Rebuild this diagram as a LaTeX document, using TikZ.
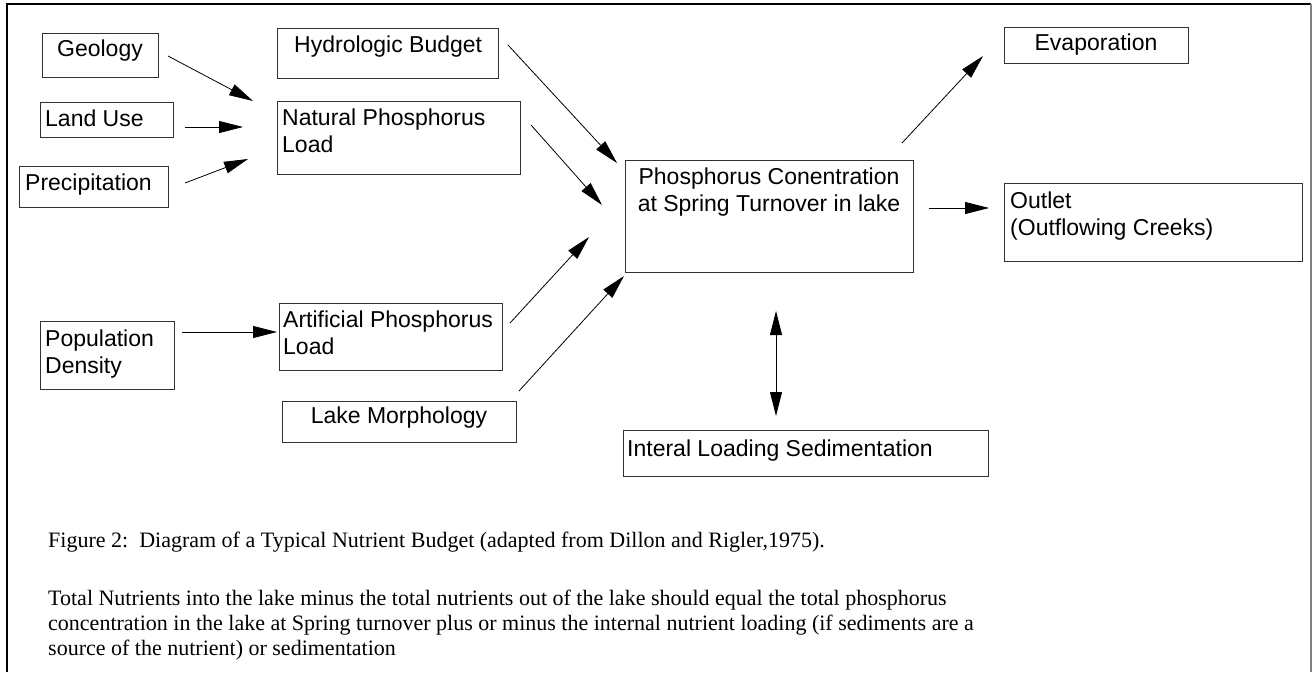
\documentclass[tikz,border=0pt]{standalone}
\usepackage{fontspec}
\setmainfont{Liberation Serif}
\setsansfont{Liberation Sans}
\usetikzlibrary{arrows.meta}
\begin{document}
\begin{tikzpicture}[x=1pt,y=-1pt,
  box/.style={draw=black!80,line width=1.1pt,inner sep=0pt,anchor=north west},
  lbl/.style={font=\sffamily\fontsize{23}{27}\selectfont,inner sep=0pt,align=left},
  captxt/.style={font=\rmfamily\fontsize{22}{25}\selectfont,inner sep=0pt,anchor=base west,align=left},
  arr/.style={line width=0.8pt,-{Triangle[length=24pt,width=12pt]}},
  darr/.style={line width=0.8pt,{Triangle[length=24pt,width=12pt]}-{Triangle[length=24pt,width=12pt]}}]
\useasboundingbox (0,0) rectangle (1316,672);
\fill[white] (0,0) rectangle (1316,672);
% frame
\draw[line width=1.5pt] (7,672) -- (7,4) -- (1311,4);
\draw[black!50,line width=2pt] (1311,4) -- (1311,672);
% boxes
\node[box,minimum width=116pt,minimum height=44pt] (geo) at (42,33) {};
\node[box,minimum width=133pt,minimum height=35pt] (land) at (40,102) {};
\node[box,minimum width=149pt,minimum height=41pt] (prec) at (19,166) {};
\node[box,minimum width=221pt,minimum height=50pt] (hyd) at (277,28) {};
\node[box,minimum width=243pt,minimum height=73pt] (nat) at (277,101) {};
\node[box,minimum width=134pt,minimum height=68pt] (pop) at (40,321) {};
\node[box,minimum width=223pt,minimum height=67pt] (art) at (279,303) {};
\node[box,minimum width=234pt,minimum height=41pt] (lake) at (282,401) {};
\node[box,minimum width=288pt,minimum height=112pt] (conc) at (625,160) {};
\node[box,minimum width=184pt,minimum height=36pt] (evap) at (1004,27) {};
\node[box,minimum width=298pt,minimum height=78pt] (out) at (1004,183) {};
\node[box,minimum width=365pt,minimum height=46pt] (sed) at (623,430) {};
% labels (base anchor = baseline of last line)
\node[lbl,anchor=base] at (100,56) {Geology};
\node[lbl,anchor=base west] at (45,126.5) {Land Use};
\node[lbl,anchor=base west] at (25,190) {Precipitation};
\node[lbl,anchor=base west] at (294,52) {Hydrologic Budget};
\node[lbl,anchor=base west] at (282,152) {Natural Phosphorus\\Load};
\node[lbl,anchor=base west] at (45,373) {Population\\Density};
\node[lbl,anchor=base west] at (283,354) {Artificial Phosphorus\\Load};
\node[lbl,anchor=base] at (399,423.5) {Lake Morphology};
\node[lbl,anchor=base,align=center] at (769,211) {Phosphorus Conentration\\at Spring Turnover in lake};
\node[lbl,anchor=base] at (1096,50) {Evaporation};
\node[lbl,anchor=base west] at (1010,235) {Outlet\\(Outflowing Creeks)};
\node[lbl,anchor=base west] at (627,456) {Interal Loading Sedimentation};
% connector ends
\coordinate (g1) at (168,56);  \coordinate (g2) at (253,101);
\coordinate (l1) at (185,127); \coordinate (l2) at (243,127);
\coordinate (p1) at (185,183); \coordinate (p2) at (248,159);
\coordinate (pd1) at (182,332); \coordinate (pd2) at (277,332);
\coordinate (h1) at (508,45);  \coordinate (h2) at (617,163);
\coordinate (n1) at (531,125); \coordinate (n2) at (602,205);
\coordinate (a1) at (510,323); \coordinate (a2) at (589,237);
\coordinate (m1) at (519,391); \coordinate (m2) at (624,276);
\coordinate (e1) at (902,143); \coordinate (e2) at (983,56);
\coordinate (o1) at (929,208); \coordinate (o2) at (989,208);
\coordinate (d1) at (776,311); \coordinate (d2) at (776,416);
\draw[arr] (g1) -- (g2);
\draw[arr] (l1) -- (l2);
\draw[arr] (p1) -- (p2);
\draw[arr] (pd1) -- (pd2);
\draw[arr] (h1) -- (h2);
\draw[arr] (n1) -- (n2);
\draw[arr] (a1) -- (a2);
\draw[arr] (m1) -- (m2);
\draw[arr] (e1) -- (e2);
\draw[arr] (o1) -- (o2);
\draw[darr] (d1) -- (d2);
% caption
\node[captxt] (fig) at (48,547) {Figure 2:\ \ Diagram of a Typical Nutrient Budget (adapted from Dillon and Rigler,1975).};
\node[captxt] (txt) at (48,655) {Total Nutrients into the lake minus the total nutrients out of the lake should equal the total phosphorus\\concentration in the lake at Spring turnover plus or minus the internal nutrient loading (if sediments are a\\source of the nutrient) or sedimentation};
\end{tikzpicture}
\end{document}
